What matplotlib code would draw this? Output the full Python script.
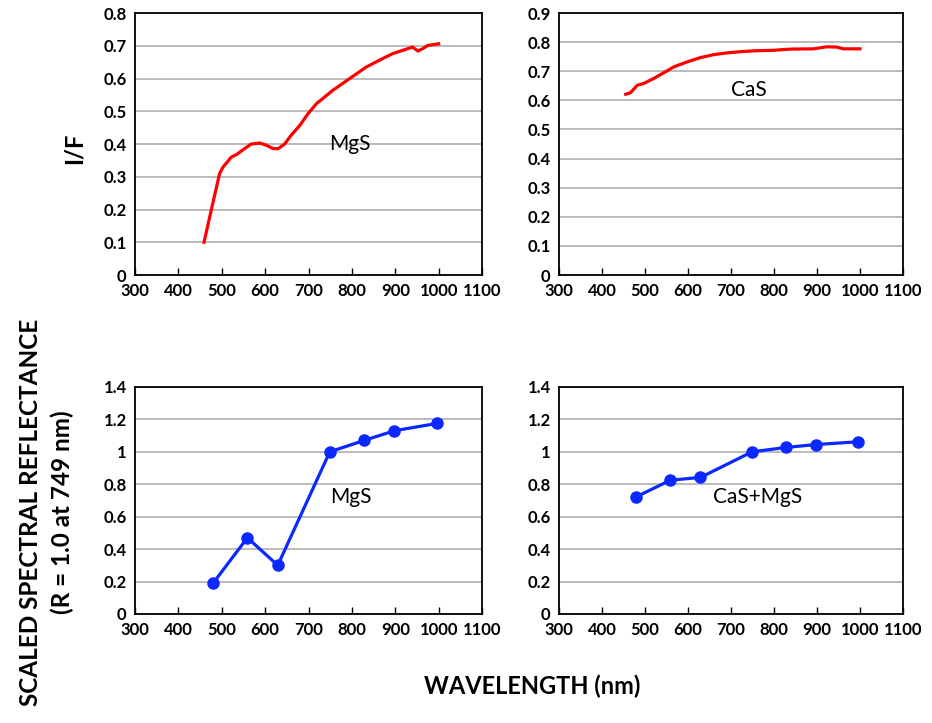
import matplotlib.pyplot as plt

plt.rcParams['font.family'] = ['Lato', 'DejaVu Sans']

# top panels: I/F spectra
mgs_wl = [459, 476, 495, 503, 522, 534, 557, 568, 588, 603, 618, 630, 645, 660, 680, 699,
          718, 756, 795, 833, 871, 894, 917, 940, 952, 963, 975, 1000]
mgs_if = [0.10, 0.20, 0.31, 0.33, 0.36, 0.368, 0.39, 0.40, 0.403, 0.396, 0.386, 0.386, 0.40,
          0.427, 0.457, 0.493, 0.523, 0.564, 0.60, 0.635, 0.661, 0.676, 0.686, 0.696, 0.684,
          0.691, 0.701, 0.706]
cas_wl = [455, 466, 482, 497, 520, 544, 567, 598, 629, 660, 690, 721, 752, 799, 838, 892,
          923, 946, 961, 1000]
cas_if = [0.621, 0.626, 0.652, 0.658, 0.675, 0.695, 0.715, 0.732, 0.747, 0.757, 0.763, 0.767,
          0.770, 0.772, 0.776, 0.777, 0.784, 0.783, 0.777, 0.777]

# bottom panels: scaled reflectance at filter wavelengths
filt_wl = [480, 559, 629, 749, 828, 898, 996]
mgs_r = [0.19, 0.47, 0.30, 1.0, 1.07, 1.13, 1.175]
mix_r = [0.723, 0.825, 0.842, 1.0, 1.027, 1.045, 1.062]

xticks = [300, 400, 500, 600, 700, 800, 900, 1000, 1100]

fig = plt.figure(figsize=(9.32, 7.23), dpi=100)
ax_tl = fig.add_axes([0.1449, 0.6196, 0.3723, 0.3624])
ax_tr = fig.add_axes([0.5998, 0.6196, 0.3691, 0.3624])
ax_bl = fig.add_axes([0.1449, 0.1508, 0.3723, 0.3140])
ax_br = fig.add_axes([0.5998, 0.1508, 0.3691, 0.3140])


def style(ax, ymax, ystep, yfmt):
    ax.set_xlim(300, 1100)
    ax.set_xticks(xticks)
    n = int(round(ymax / ystep))
    yt = [i * ystep for i in range(n + 1)]
    ax.set_ylim(0, ymax)
    ax.set_yticks(yt)
    ax.set_yticklabels([yfmt(v) for v in yt])
    ax.grid(axis='y', color='#a8a8a8', lw=1.1)
    ax.set_axisbelow(True)
    for s in ax.spines.values():
        s.set_linewidth(1.3)
    ax.tick_params(axis='x', direction='in', length=5, width=1.0, labelsize=12, pad=6)
    ax.tick_params(axis='y', length=0, labelsize=12, pad=6)
    for lab in ax.get_xticklabels() + ax.get_yticklabels():
        lab.set_fontweight('bold')


def fmt1(v):
    return '0' if abs(v) < 1e-9 else f'{v:.1f}'


def fmt2(v):
    if abs(v) < 1e-9:
        return '0'
    if abs(v - round(v)) < 1e-9:
        return str(int(round(v)))
    return f'{v:.1f}'


ax_tl.plot(mgs_wl, mgs_if, color='#ff0000', lw=2.3)
style(ax_tl, 0.8, 0.1, fmt1)
ax_tl.text(795, 0.40, 'MgS', fontsize=15, ha='center', va='center')

ax_tr.plot(cas_wl, cas_if, color='#ff0000', lw=2.3)
style(ax_tr, 0.9, 0.1, fmt1)
ax_tr.text(742, 0.635, 'CaS', fontsize=15, ha='center', va='center')

ax_bl.plot(filt_wl, mgs_r, color='#0a28ff', lw=2.3, marker='o', ms=8)
style(ax_bl, 1.4, 0.2, fmt2)
ax_bl.text(798, 0.72, 'MgS', fontsize=15, ha='center', va='center')

ax_br.plot(filt_wl, mix_r, color='#0a28ff', lw=2.3, marker='o', ms=8)
style(ax_br, 1.4, 0.2, fmt2)
ax_br.text(763, 0.72, 'CaS+MgS', fontsize=15, ha='center', va='center')

fig.text(0.080, 0.795, 'I/F', rotation=90, fontsize=17, fontweight='bold',
         ha='center', va='center')
fig.text(0.050, 0.292, 'SCALED SPECTRAL REFLECTANCE\n(R = 1.0 at 749 nm)', rotation=90,
         fontsize=17.5, fontweight='bold', ha='center', va='center', linespacing=1.4)
fig.text(0.571, 0.051, 'WAVELENGTH (nm)', fontsize=17, fontweight='bold',
         ha='center', va='center')

fig.savefig('out.png', dpi=100)
